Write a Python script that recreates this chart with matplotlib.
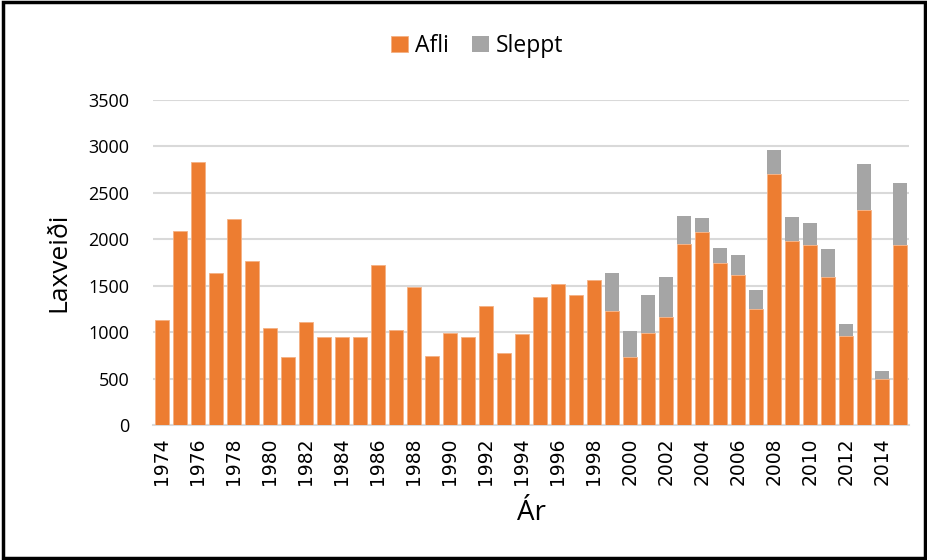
import matplotlib.pyplot as plt
import numpy as np
from matplotlib.patches import Rectangle

years = list(range(1974, 2016))
afli = [1130, 2090, 2830, 1640, 2215, 1765, 1040, 727, 1105, 953,
        953, 950, 1727, 1018, 1482, 741, 996, 946, 1284, 773,
        975, 1378, 1514, 1403, 1558, 1230, 730, 993, 1162, 1950,
        2076, 1748, 1612, 1248, 2705, 1978, 1939, 1594, 957, 2320,
        493, 1939]
heild = [1130, 2090, 2830, 1640, 2215, 1765, 1040, 727, 1105, 953,
         953, 950, 1727, 1018, 1482, 741, 996, 946, 1284, 773,
         975, 1378, 1514, 1403, 1558, 1633, 1007, 1403, 1597, 2255,
         2227, 1906, 1827, 1450, 2960, 2241, 2173, 1899, 1083, 2809,
         586, 2604]
sleppt = [h - a for h, a in zip(heild, afli)]
tick_labels = [str(y) for y in years[::2]]

orange = "#ED7D31"
gray = "#A5A5A5"

fig = plt.figure(figsize=(9.28, 5.6), dpi=100)
ax = fig.add_axes([153 / 928, 1 - 425 / 560, 756 / 928, 325 / 560])

x = np.arange(len(years))
ax.bar(x, afli, width=0.82, color=orange, edgecolor="#F4B183", linewidth=0.6, label="Afli", zorder=3)
ax.bar(x, sleppt, bottom=afli, width=0.82, color=gray, linewidth=0,
       label="Sleppt", zorder=3)

ax.set_xlim(-0.5, len(years) - 0.5)
ax.set_ylim(0, 3500)
ax.set_yticks(range(0, 3501, 500))
ax.set_yticklabels([str(v) for v in range(0, 3501, 500)], fontfamily="Open Sans", fontsize=13)
ax.set_xticks(x[::2])
ax.set_xticklabels(tick_labels, rotation=90, fontfamily="DejaVu Sans", fontsize=13.5)
ax.tick_params(length=0, pad=9)
ax.tick_params(axis="y", pad=17)

ax.grid(axis="y", color="#D9D9D9", linewidth=1.5, zorder=0)
for s in ["top", "right", "left"]:
    ax.spines[s].set_visible(False)
ax.spines["bottom"].set_color("#D9D9D9")
ax.spines["bottom"].set_linewidth(1.5)

ax.set_ylabel("Laxveiði", fontfamily="Open Sans", fontsize=19, labelpad=12)
ax.set_xlabel("Ár", fontfamily="Open Sans", fontsize=20, labelpad=10)

fig.legend(loc="center", bbox_to_anchor=(477 / 928, 1 - 46 / 560), ncol=2, frameon=False,
           prop={"family": "Open Sans", "size": 16.5}, handlelength=0.75, handleheight=0.75,
           handletextpad=0.3, columnspacing=1.0)

fig.patches.append(Rectangle((0.003, 0.003), 0.994, 0.994, transform=fig.transFigure,
                             fill=False, edgecolor="black", linewidth=2.5))

plt.savefig("out.png", dpi=100)
